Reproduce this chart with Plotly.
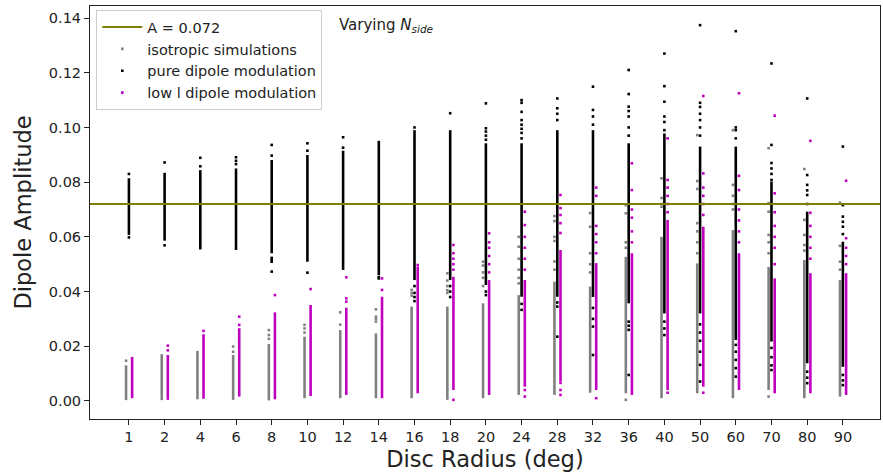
import plotly.graph_objects as go

categories = ["1", "2", "4", "6", "8", "10", "12", "14", "16", "18", "20",
              "24", "28", "32", "36", "40", "50", "60", "70", "80", "90"]
A_REF = 0.072

# isotropic simulations: dense range (lo, hi) + sparse points
iso_lo = [0.0003, 0.0003, 0.0006, 0.0004, 0.0002, 0.0010, 0.0010, 0.0010, 0.0010, 0.0004, 0.0010,
          0.0022, 0.0022, 0.0030, 0.0028, 0.0010, 0.0028, 0.0010, 0.0040, 0.0010, 0.0016]
iso_hi = [0.0130, 0.0171, 0.0183, 0.0168, 0.0208, 0.0235, 0.0259, 0.0247, 0.0345, 0.0345, 0.0357,
          0.0387, 0.0436, 0.0418, 0.0527, 0.0600, 0.0503, 0.0625, 0.0490, 0.0515, 0.0442]
iso_pts = [
    [0.0147], [], [], [0.0199, 0.0180], [0.0259, 0.0241, 0.0227], [0.0278, 0.0265, 0.0250],
    [0.0324, 0.0279], [0.0335, 0.0308, 0.0300, 0.0290], [0.0406, 0.0395, 0.0385],
    [0.0467, 0.0440, 0.0420, 0.0405, 0.0395], [0.0509, 0.0495, 0.0470, 0.0450, 0.0420],
    [0.0600, 0.0564, 0.0520, 0.0480, 0.0450, 0.0430], [0.0676, 0.0658, 0.0600, 0.0585, 0.0510, 0.0480],
    [0.0687, 0.0637, 0.0540, 0.0500, 0.0470], [0.0716, 0.0686, 0.0580, 0.0560, 0.0004],
    [0.0814, 0.0742, 0.0720, 0.0710], [0.0972, 0.0804, 0.0775, 0.0650, 0.0620, 0.0580, 0.0540],
    [0.0990, 0.0790, 0.0750, 0.0720, 0.0700], [0.0924, 0.0723, 0.0692, 0.0607, 0.0580, 0.0540, 0.0016],
    [0.0848, 0.0662, 0.0607, 0.0570, 0.0550], [0.0725, 0.0567, 0.0509, 0.0480]]

# pure dipole modulation
pure_lo = [0.0607, 0.0586, 0.0554, 0.0552, 0.0540, 0.0509, 0.0479, 0.0460, 0.0442, 0.0442, 0.0424,
           0.0381, 0.0381, 0.0380, 0.0357, 0.0320, 0.0320, 0.0223, 0.0217, 0.0138, 0.0125]
pure_hi = [0.0814, 0.0834, 0.0844, 0.0850, 0.0881, 0.0899, 0.0915, 0.0951, 0.0990, 0.0990, 0.0942,
           0.0942, 0.0990, 0.0990, 0.0942, 0.0978, 0.0930, 0.0930, 0.0802, 0.0692, 0.0582]
pure_pts = [
    [0.0830, 0.0598], [0.0872, 0.0569], [0.0889, 0.0858], [0.0891, 0.0878, 0.0866],
    [0.0936, 0.0897, 0.0523, 0.0515, 0.0509, 0.0473], [0.0942, 0.0915, 0.0469], [0.0964, 0.0926],
    [0.0453, 0.0448], [0.1000, 0.0420, 0.0395, 0.0380, 0.0365], [0.1052, 0.0420, 0.0400, 0.0380],
    [0.1088, 0.0997, 0.0985, 0.0970, 0.0955, 0.0400, 0.0387],
    [0.1100, 0.1090, 0.1057, 0.1027, 0.1010, 0.0995, 0.0980, 0.0960, 0.0355, 0.0333],
    [0.1106, 0.1070, 0.1050, 0.1027, 0.0360, 0.0345, 0.0235],
    [0.1149, 0.1064, 0.1040, 0.1010, 0.0340, 0.0300, 0.0272, 0.0168],
    [0.1210, 0.1122, 0.1076, 0.1060, 0.1040, 0.1000, 0.0970, 0.0290, 0.0275, 0.0260, 0.0095],
    [0.1270, 0.1151, 0.1094, 0.1040, 0.1020, 0.0990, 0.0290, 0.0265, 0.0241],
    [0.1374, 0.1090, 0.1075, 0.1050, 0.1027, 0.1000, 0.0970, 0.0280, 0.0250, 0.0220, 0.0180, 0.0132, 0.0071],
    [0.1352, 0.1000, 0.0990, 0.0960, 0.0205, 0.0180, 0.0150, 0.0120, 0.0089],
    [0.1234, 0.0936, 0.0870, 0.0850, 0.0830, 0.0808, 0.0194, 0.0160, 0.0130, 0.0113],
    [0.1106, 0.0826, 0.0790, 0.0770, 0.0753, 0.0720, 0.0107, 0.0085, 0.0065],
    [0.0930, 0.0716, 0.0674, 0.0655, 0.0637, 0.0610, 0.0095, 0.0075, 0.0058]]

# low l dipole modulation
lowl_lo = [0.0010, 0.0004, 0.0008, 0.0016, 0.0006, 0.0018, 0.0022, 0.0010, 0.0028, 0.0040, 0.0022,
           0.0052, 0.0071, 0.0040, 0.0022, 0.0040, 0.0052, 0.0040, 0.0028, 0.0028, 0.0022]
lowl_hi = [0.0161, 0.0168, 0.0244, 0.0266, 0.0324, 0.0351, 0.0341, 0.0381, 0.0491, 0.0454, 0.0442,
           0.0442, 0.0552, 0.0504, 0.0540, 0.0662, 0.0637, 0.0540, 0.0448, 0.0467, 0.0467]
lowl_pts = [
    [], [0.0202, 0.0185], [0.0256], [0.0308, 0.0278], [0.0387], [0.0409], [0.0452, 0.0375, 0.0363],
    [0.0448, 0.0406], [0.0497], [0.0570, 0.0540, 0.0520, 0.0500, 0.0480, 0.0004],
    [0.0613, 0.0580, 0.0560, 0.0530, 0.0500, 0.0470],
    [0.0692, 0.0643, 0.0600, 0.0560, 0.0520, 0.0480, 0.0040, 0.0016],
    [0.0753, 0.0705, 0.0680, 0.0650, 0.0614, 0.0066, 0.0040, 0.0022],
    [0.0780, 0.0750, 0.0640, 0.0610, 0.0580, 0.0540, 0.0010],
    [0.0869, 0.0771, 0.0700, 0.0670, 0.0620, 0.0580],
    [0.0960, 0.0808, 0.0780, 0.0750, 0.0720, 0.0690, 0.0030],
    [0.1115, 0.0832, 0.0780, 0.0750, 0.0720, 0.0680, 0.0030],
    [0.1125, 0.0823, 0.0771, 0.0700, 0.0660, 0.0620, 0.0580],
    [0.1043, 0.0759, 0.0690, 0.0640, 0.0600, 0.0560, 0.0500],
    [0.0951, 0.0688, 0.0640, 0.0600, 0.0560, 0.0520],
    [0.0805, 0.0595, 0.0560, 0.0530, 0.0500]]

series = [
    ("isotropic simulations", "#808080", -0.08, iso_lo, iso_hi, iso_pts),
    ("pure dipole modulation", "#000000", 0.0, pure_lo, pure_hi, pure_pts),
    ("low l dipole modulation", "#bf00bf", 0.09, lowl_lo, lowl_hi, lowl_pts),
]

fig = go.Figure()
for rank, (name, color, off, lo, hi, pts) in enumerate(series):
    sx, sy = [], []
    for i in range(len(categories)):
        sx += [i + off, i + off, None]
        sy += [lo[i], hi[i], None]
    fig.add_trace(go.Scatter(x=sx, y=sy, mode="lines", line=dict(color=color, width=2.6),
                             showlegend=False, hoverinfo="skip"))
    px, py = [], []
    for i, vals in enumerate(pts):
        for v in vals:
            px.append(i + off)
            py.append(v)
    fig.add_trace(go.Scatter(x=px, y=py, mode="markers", name=name, legendrank=rank + 2,
                             marker=dict(color=color, size=2.6, symbol="square")))

fig.add_trace(go.Scatter(x=[-1.09, 21.04], y=[A_REF, A_REF], mode="lines",
                         name="A = 0.072", legendrank=1,
                         line=dict(color="#808000", width=2)))

fig.update_layout(
    width=883, height=473,
    margin=dict(l=90, r=3, t=6, b=54),
    plot_bgcolor="white", paper_bgcolor="white",
    font=dict(family="DejaVu Sans", size=14, color="#222"),
    legend=dict(x=0.008, y=0.99, xanchor="left", yanchor="top",
                bgcolor="rgba(255,255,255,0.9)", bordercolor="#cccccc", borderwidth=1,
                font=dict(size=14.5), tracegroupgap=0, itemwidth=40),
    annotations=[dict(x=0.313, y=0.952, xref="paper", yref="paper", xanchor="left",
                      yanchor="middle", showarrow=False,
                      text="Varying <i>N</i><sub><i>side</i></sub>",
                      font=dict(size=15, color="#222"))],
)
fig.update_xaxes(range=[-1.09, 21.04], tickmode="array",
                 tickvals=list(range(len(categories))), ticktext=categories,
                 showgrid=False, zeroline=False, showline=True, linecolor="#222", linewidth=1,
                 mirror=True, ticks="outside", ticklen=5, tickcolor="#222",
                 tickfont=dict(size=14.5),
                 title=dict(text="Disc Radius (deg)", font=dict(size=22.5), standoff=6))
fig.update_yaxes(range=[-0.0066, 0.1444], tickmode="array",
                 tickvals=[0, 0.02, 0.04, 0.06, 0.08, 0.10, 0.12, 0.14],
                 ticktext=["0.00", "0.02", "0.04", "0.06", "0.08", "0.10", "0.12", "0.14"],
                 showgrid=False, zeroline=False, showline=True, linecolor="#222", linewidth=1,
                 mirror=True, ticks="outside", ticklen=5, tickcolor="#222",
                 tickfont=dict(size=14.5),
                 title=dict(text="Dipole Amplitude", font=dict(size=22.5), standoff=10))

fig.write_html("out.html")
